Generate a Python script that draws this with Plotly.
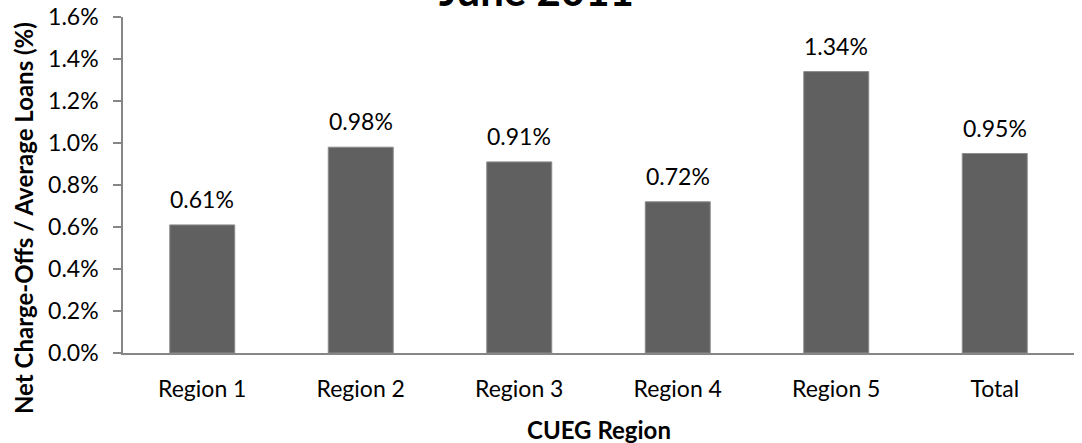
import plotly.graph_objects as go

categories = ["Region 1", "Region 2", "Region 3", "Region 4", "Region 5", "Total"]
values = [0.61, 0.98, 0.91, 0.72, 1.34, 0.95]
y_ticks = [0.0, 0.2, 0.4, 0.6, 0.8, 1.0, 1.2, 1.4, 1.6]

FONT = "Lato"
AXIS_COLOR = "#868686"

fig = go.Figure()
fig.add_trace(go.Bar(
    x=categories, y=values, width=0.41,
    marker=dict(color="#606060", line=dict(color="#8c8c8c", width=1)),
    hoverinfo="skip",
))

for c, v in zip(categories, values):
    fig.add_annotation(x=c, y=v, text=f"{v:.2f}%", showarrow=False,
                       yanchor="bottom", yshift=10,
                       font=dict(family=FONT, size=23, color="black"))

# chart title (partly cut off at the top edge, as in the reference)
fig.add_annotation(xref="paper", yref="paper", x=0.435, y=1, xanchor="center",
                   yanchor="bottom", yshift=0, text="<b>June 2011</b>", showarrow=False,
                   font=dict(family=FONT, size=42, color="black"))

# axis titles
fig.add_annotation(xref="paper", yref="paper", x=0.5, y=0, yanchor="middle",
                   yshift=-76, text="<b>CUEG Region</b>", showarrow=False,
                   font=dict(family=FONT, size=24, color="black"))
fig.add_annotation(xref="paper", yref="paper", x=0, y=0.5, xanchor="center",
                   yanchor="middle", xshift=-100, yshift=-33, textangle=-90,
                   text="<b>Net Charge-Offs / Average Loans (%)</b>", showarrow=False,
                   font=dict(family=FONT, size=24, color="black"))

fig.update_layout(
    width=1082, height=443,
    margin=dict(l=123, r=8, t=17, b=90, autoexpand=False),
    paper_bgcolor="white", plot_bgcolor="white",
    showlegend=False,
    bargap=0.59,
    font=dict(family=FONT, size=23, color="black"),
)
fig.update_xaxes(
    automargin=False,
    showline=True, linecolor=AXIS_COLOR, linewidth=1.5,
    ticks="", tickfont=dict(family=FONT, size=23, color="black"),
    ticklabelstandoff=15,
    showgrid=False,
)
fig.update_yaxes(
    automargin=False,
    range=[0, 1.6], tickvals=y_ticks,
    ticktext=[f"{t:.1f}%" for t in y_ticks],
    showline=True, linecolor=AXIS_COLOR, linewidth=1.5,
    ticks="outside", ticklen=8, tickcolor=AXIS_COLOR, tickwidth=1.5,
    tickfont=dict(family=FONT, size=23, color="black"),
    ticklabelstandoff=10,
    showgrid=False, zeroline=False,
)

fig.write_html("out.html")
